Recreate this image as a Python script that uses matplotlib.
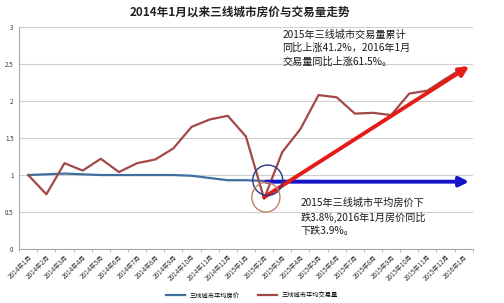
import numpy as np
import matplotlib
matplotlib.use("Agg")
import matplotlib.pyplot as plt
from matplotlib.patches import Ellipse

plt.rcParams['font.family'] = ['Noto Sans CJK SC', 'DejaVu Sans']

# 月份
months = ["2014年1月", "2014年2月", "2014年3月", "2014年4月", "2014年5月", "2014年6月",
          "2014年7月", "2014年8月", "2014年9月", "2014年10月", "2014年11月", "2014年12月",
          "2015年1月", "2015年2月", "2015年3月", "2015年4月", "2015年5月", "2015年6月",
          "2015年7月", "2015年8月", "2015年9月", "2015年10月", "2015年11月", "2015年12月",
          "2016年1月"]

# 三线城市平均房价 (指数)
price = [1.00, 1.01, 1.02, 1.01, 1.00, 1.00, 1.00, 1.00, 1.00, 0.99, 0.96, 0.93,
         0.93, 0.92, 0.92, 0.92, 0.92, 0.91, 0.91, 0.91, 0.91, 0.91, 0.91, 0.91, 0.91]

# 三线城市平均交易量 (指数)
volume = [1.00, 0.74, 1.16, 1.06, 1.22, 1.04, 1.16, 1.21, 1.36, 1.65, 1.75, 1.80,
          1.52, 0.68, 1.31, 1.62, 2.08, 2.05, 1.83, 1.84, 1.81, 2.10, 2.14, 2.30, 2.45]

yticks = [0, 0.5, 1, 1.5, 2, 2.5, 3]
ytick_labels = ["0", "0.5", "1", "1.5", "2", "2.5", "3"]

text_up = "2015年三线城市交易量累计\n同比上涨41.2%，2016年1月\n交易量同比上涨61.5%。"
text_down = "2015年三线城市平均房价下\n跌3.8%,2016年1月房价同比\n下跌3.9%。"

fig = plt.figure(figsize=(5.04, 3.03), dpi=100)
ax = fig.add_axes([0.038, 0.178, 0.900, 0.733])

x = np.arange(len(months))
ax.plot(x, price, color="#3f6f9f", lw=1.6, label="三线城市平均房价", zorder=3)
ax.plot(x, volume, color="#a34848", lw=1.6, label="三线城市平均交易量", zorder=3)

ax.set_xlim(-0.5, len(months) - 0.5)
ax.set_ylim(0, 3)
ax.set_yticks(yticks)
ax.set_yticklabels(ytick_labels, fontsize=4.5, color="#333333")
ax.set_xticks(x)
ax.set_xticklabels(months, fontsize=4.6, rotation=45, ha="right",
                   rotation_mode="anchor", color="#333333")
ax.set_xticks(np.arange(-0.5, len(months), 1), minor=True)
ax.tick_params(axis="x", which="major", length=0, pad=3)
ax.tick_params(axis="x", which="minor", length=2.5, color="#aaaaaa")
ax.tick_params(axis="y", length=0, pad=4)
ax.grid(axis="y", color="#cfcfcf", lw=0.8)
ax.set_axisbelow(True)
for s in ["top", "right"]:
    ax.spines[s].set_visible(False)
for s in ["left", "bottom"]:
    ax.spines[s].set_color("#aaaaaa")
    ax.spines[s].set_linewidth(0.8)

# 箭头
ax.annotate("", xy=(24.3, 2.47), xytext=(13.0, 0.70),
            arrowprops=dict(arrowstyle="-|>", color="#e41b17", lw=2.8,
                            mutation_scale=14, shrinkA=0, shrinkB=0), zorder=5)
ax.annotate("", xy=(24.3, 0.91), xytext=(13.1, 0.91),
            arrowprops=dict(arrowstyle="-|>", color="#1414c8", lw=2.8,
                            mutation_scale=14, shrinkA=0, shrinkB=0), zorder=4)

# 圆圈
ax.add_patch(Ellipse((13.2, 0.93), 1.65, 0.41, fill=False, ec="#2c3585", lw=1.0, zorder=6))
ax.add_patch(Ellipse((13.1, 0.70), 1.55, 0.40, fill=False, ec="#c0806a", lw=1.0, zorder=6))

ax.text(14.0, 2.97, text_up, fontsize=7.3, va="top", ha="left",
        color="#1a1a1a", linespacing=1.4, fontweight="medium")
ax.text(15.0, 0.69, text_down, fontsize=7.3, va="top", ha="left",
        color="#1a1a1a", linespacing=1.4, fontweight="medium")

fig.text(0.476, 0.96, "2014年1月以来三线城市房价与交易量走势", fontsize=8.4,
         fontweight="bold", ha="center", va="center", color="#222222")

fig.legend(loc="center", bbox_to_anchor=(0.5, 0.025), ncol=2, frameon=False,
           fontsize=4.5, handlelength=3, columnspacing=3)

fig.savefig("out.png", dpi=100)
